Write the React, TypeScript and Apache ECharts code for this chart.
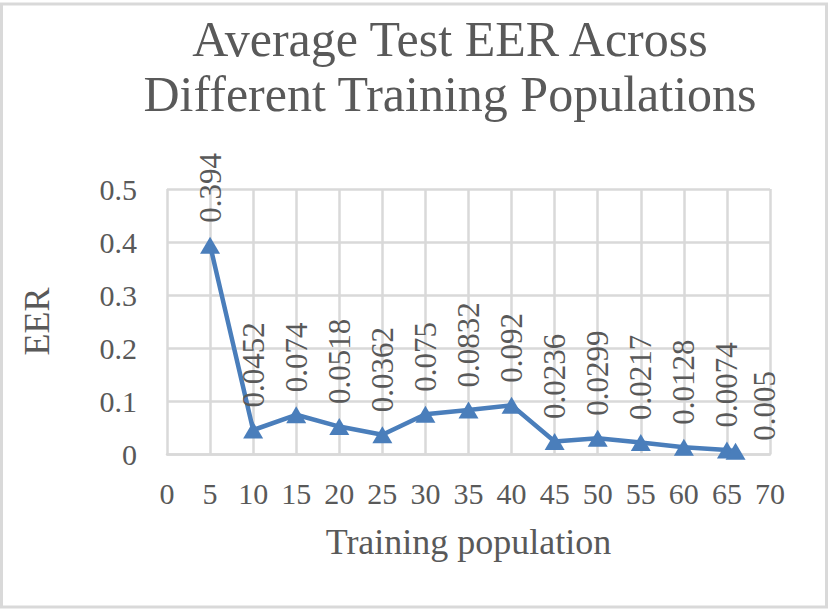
import React, { useEffect, useRef } from "react";
import * as echarts from "echarts";

const trainingPopulation = [5, 10, 15, 20, 25, 30, 35, 40, 45, 50, 55, 60, 65, 66];
const eerValues = [0.394, 0.0452, 0.074, 0.0518, 0.0362, 0.075, 0.0832, 0.092, 0.0236, 0.0299, 0.0217, 0.0128, 0.0074, 0.005];
const titleLines = ["Average Test EER Across", "Different Training Populations"];
const xAxisName = "Training population";
const yAxisName = "EER";

const FONT = '"Liberation Serif", "Times New Roman", serif';
const TEXT = "#595959";
const GRID = "#d9d9d9";
const BLUE = "#4a7ebb";

export default function App() {
  const ref = useRef<HTMLDivElement>(null);
  useEffect(() => {
    if (!ref.current) return;
    const chart = echarts.init(ref.current, undefined, { renderer: "svg" });
    const data = trainingPopulation.map((x, i) => {
      const item: any = { value: [x, eerValues[i]] };
      if (i === trainingPopulation.length - 1) {
        item.label = { offset: [-12, 29] };
      }
      return item;
    });
    chart.setOption({
      animation: false,
      backgroundColor: "#ffffff",
      title: {
        text: titleLines.join("\n"),
        left: 445,
        textAlign: "center",
        top: 6,
        textStyle: {
          fontFamily: FONT,
          fontSize: 50,
          lineHeight: 55,
          fontWeight: "normal",
          color: TEXT,
        },
      },
      graphic: [
        {
          type: "rect",
          shape: { x: 1.5, y: 4, width: 825, height: 603 },
          style: { fill: "none", stroke: GRID, lineWidth: 3 },
          silent: true,
        },
      ],
      grid: { left: 167, right: 60, top: 189, bottom: 155, containLabel: false },
      xAxis: {
        type: "value",
        min: 0,
        max: 70,
        interval: 5,
        name: xAxisName,
        nameLocation: "middle",
        nameGap: 70,
        nameTextStyle: { fontFamily: FONT, fontSize: 36, color: TEXT },
        axisLine: { show: true, lineStyle: { color: GRID, width: 2.5 } },
        axisTick: { show: false },
        axisLabel: { fontFamily: FONT, fontSize: 30, color: TEXT, margin: 24 },
        splitLine: { show: true, lineStyle: { color: GRID, width: 2.5 } },
      },
      yAxis: {
        type: "value",
        min: 0,
        max: 0.5,
        interval: 0.1,
        name: yAxisName,
        nameLocation: "middle",
        nameGap: 112,
        nameRotate: 90,
        nameTextStyle: { fontFamily: FONT, fontSize: 36, color: TEXT },
        axisLine: { show: false },
        axisTick: { show: false },
        axisLabel: { fontFamily: FONT, fontSize: 30, color: TEXT, margin: 30 },
        splitLine: { show: true, lineStyle: { color: GRID, width: 2.5 } },
      },
      series: [
        {
          type: "line",
          data,
          symbol: "triangle",
          symbolSize: [20, 17],
          lineStyle: { color: BLUE, width: 4.5 },
          itemStyle: { color: BLUE },
          label: {
            show: true,
            position: "top",
            distance: 14,
            rotate: 90,
            align: "left",
            verticalAlign: "middle",
            fontFamily: FONT,
            fontSize: 31,
            color: TEXT,
            formatter: (p: any) => String(p.value[1]),
          },
        },
      ],
    });
    return () => chart.dispose();
  }, []);
  return (
    <div
      ref={ref}
      style={{ position: "absolute", left: 0, top: 0, width: 830, height: 609 }}
    />
  );
}
